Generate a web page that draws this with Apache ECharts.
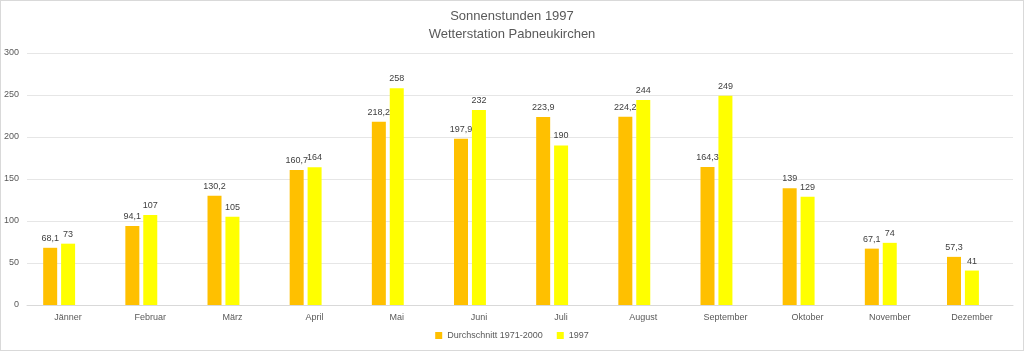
<!DOCTYPE html>
<html><head><meta charset="utf-8">
<script src="https://cdn.jsdelivr.net/npm/echarts@6/dist/echarts.min.js"></script>
<style>html,body{margin:0;padding:0;background:#fff}#c{width:1024px;height:351px;box-sizing:border-box;border:1px solid #d9d9d9}</style>
</head><body><div id="c"></div>
<script>
const categories = ['Jänner','Februar','März','April','Mai','Juni','Juli','August','September','Oktober','November','Dezember'];
const avgValues = [68.1, 94.1, 130.2, 160.7, 218.2, 197.9, 223.9, 224.2, 164.3, 139, 67.1, 57.3];
const values1997 = [73, 107, 105, 164, 258, 232, 190, 244, 249, 129, 74, 41];
// empty third series in the source chart (reserves a bar slot to the right)
const emptySeries = [null, null, null, null, null, null, null, null, null, null, null, null];
const seriesNames = ['Durchschnitt 1971-2000', '1997'];
const yTicks = { min: 0, max: 300, interval: 50 };

const font = 'Liberation Sans';
const fmt = p => String(p.value).replace('.', ',');
const lbl = { show: true, position: 'top', formatter: fmt, fontFamily: font, fontSize: 9, color: '#404040', distance: 5 };
const chart = echarts.init(document.getElementById('c'));
chart.setOption({
  animation: false,
  title: {
    text: 'Sonnenstunden 1997\nWetterstation Pabneukirchen',
    left: 'center', top: 1,
    textStyle: { fontFamily: font, fontSize: 13, fontWeight: 'normal', color: '#595959', lineHeight: 18 }
  },
  legend: {
    bottom: 5, left: 'center', itemWidth: 7, itemHeight: 7, itemGap: 14,
    icon: 'rect',
    textStyle: { fontFamily: font, fontSize: 9, color: '#595959' },
    data: seriesNames
  },
  grid: { left: 24, right: 10, top: 52, bottom: 45, containLabel: false },
  xAxis: {
    type: 'category', data: categories,
    axisLine: { lineStyle: { color: '#d9d9d9' } },
    axisTick: { show: false },
    axisLabel: { fontFamily: font, fontSize: 9, color: '#595959', margin: 8 }
  },
  yAxis: {
    type: 'value', min: yTicks.min, max: yTicks.max, interval: yTicks.interval,
    axisLine: { show: false }, axisTick: { show: false },
    axisLabel: { fontFamily: font, fontSize: 9, color: '#595959', margin: 8 },
    splitLine: { lineStyle: { color: '#e6e6e6' } }
  },
  series: [
    { name: seriesNames[0], type: 'bar', data: avgValues, barWidth: 14, barGap: '28%',
      itemStyle: { color: '#FFC000' }, label: lbl },
    { name: seriesNames[1], type: 'bar', data: values1997, barWidth: 14,
      itemStyle: { color: '#FFFF00' }, label: lbl },
    { name: 'leer', type: 'bar', data: emptySeries, barWidth: 14,
      itemStyle: { color: 'transparent' }, label: { show: false } }
  ]
});
</script></body></html>
